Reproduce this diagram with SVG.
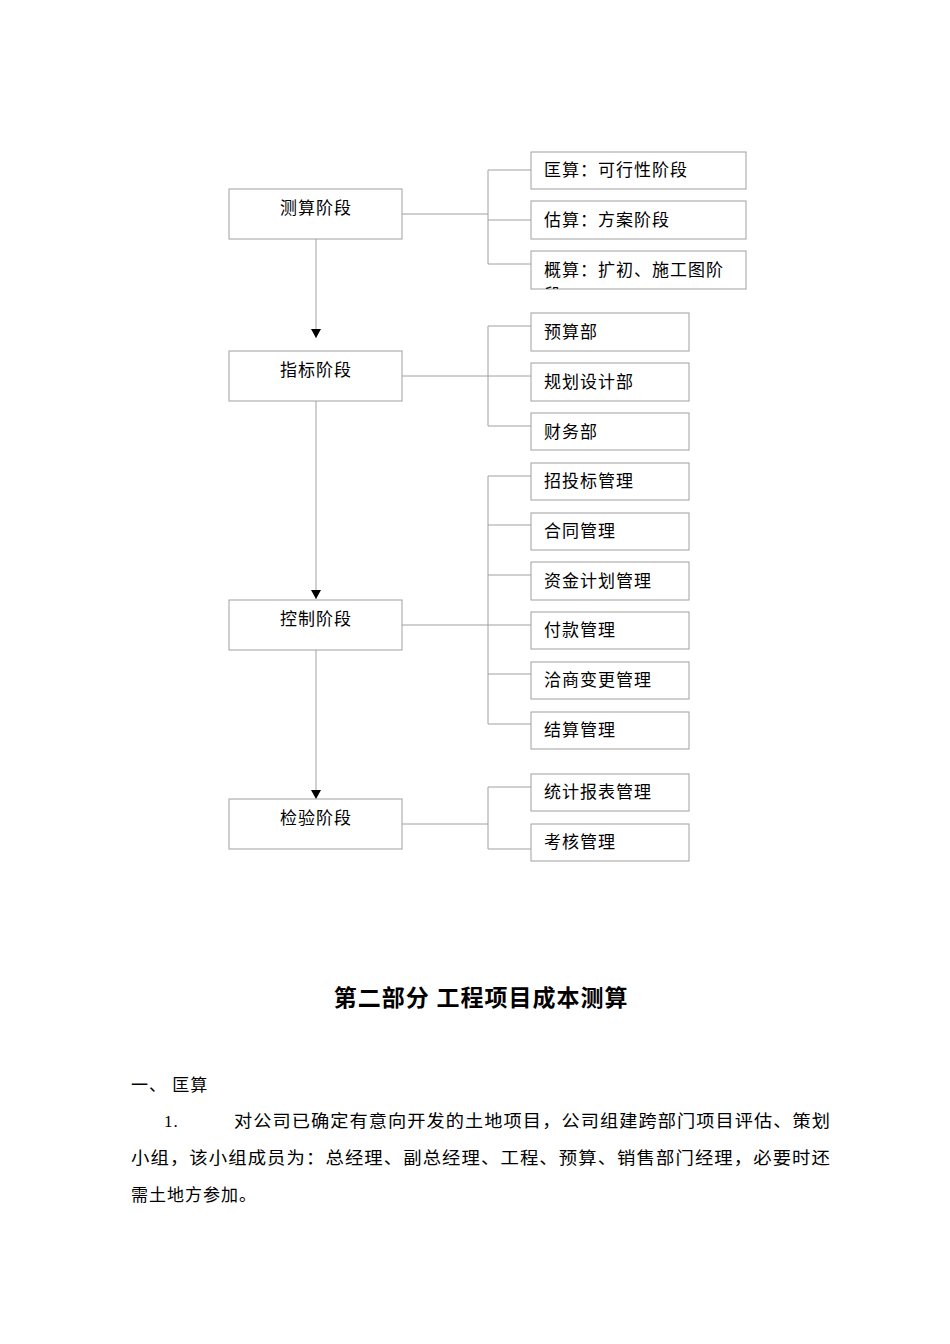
<svg xmlns="http://www.w3.org/2000/svg" width="950" height="1344" viewBox="0 0 950 1344">
<style>
.b{fill:#fff;stroke:#a0a0a0;stroke-width:1}
.l{stroke:#a0a0a0;stroke-width:1;fill:none}
text{font-family:"Liberation Serif","Noto Sans CJK SC",serif;font-size:17px;fill:#000;letter-spacing:1px}
.c{text-anchor:middle}
</style>
<defs>
<marker id="a" markerWidth="10" markerHeight="10" refX="9" refY="5" orient="auto" markerUnits="userSpaceOnUse"><path d="M0,0 L9,5 L0,10 Z" fill="#000"/></marker>
<clipPath id="cp"><rect x="531" y="251" width="215" height="38"/></clipPath>
</defs>
<rect width="950" height="1344" fill="#fff"/>
<g id="connectors">
<path class="l" d="M316,239 V338" marker-end="url(#a)"/>
<path class="l" d="M316,401 V599" marker-end="url(#a)"/>
<path class="l" d="M316,650 V799" marker-end="url(#a)"/>
<path class="l" d="M402,214 H488 M488,170 V264 M488,170 H531 M488,220 H531 M488,264 H531"/>
<path class="l" d="M402,376 H488 M488,326 V426 M488,326 H531 M488,376 H531 M488,426 H531"/>
<path class="l" d="M402,625 H488 M488,476 V724 M488,476 H531 M488,525 H531 M488,575 H531 M488,625 H531 M488,674 H531 M488,724 H531"/>
<path class="l" d="M402,824 H488 M488,787 V849 M488,787 H531 M488,849 H531"/>
</g>
<g id="n1"><rect class="b" x="229" y="189" width="173" height="50"/><text class="c" x="316" y="214">测算阶段</text></g>
<g id="n2"><rect class="b" x="229" y="351" width="173" height="50"/><text class="c" x="316" y="376">指标阶段</text></g>
<g id="n3"><rect class="b" x="229" y="600" width="173" height="50"/><text class="c" x="316" y="625">控制阶段</text></g>
<g id="n4"><rect class="b" x="229" y="799" width="173" height="50"/><text class="c" x="316" y="824">检验阶段</text></g>
<g id="s1"><rect class="b" x="531" y="152" width="215" height="37"/><text x="544" y="176">匡算：可行性阶段</text></g>
<g id="s2"><rect class="b" x="531" y="201" width="215" height="38"/><text x="544" y="226">估算：方案阶段</text></g>
<g id="s3"><rect class="b" x="531" y="251" width="215" height="38"/><g clip-path="url(#cp)"><text x="544" y="276">概算：扩初、施工图阶</text><text x="544" y="301">段</text></g></g>
<g id="s4"><rect class="b" x="531" y="313" width="158" height="38"/><text x="544" y="338">预算部</text></g>
<g id="s5"><rect class="b" x="531" y="363" width="158" height="38"/><text x="544" y="388">规划设计部</text></g>
<g id="s6"><rect class="b" x="531" y="413" width="158" height="37"/><text x="544" y="438">财务部</text></g>
<g id="s7"><rect class="b" x="531" y="463" width="158" height="37"/><text x="544" y="487">招投标管理</text></g>
<g id="s8"><rect class="b" x="531" y="513" width="158" height="37"/><text x="544" y="537">合同管理</text></g>
<g id="s9"><rect class="b" x="531" y="562" width="158" height="38"/><text x="544" y="587">资金计划管理</text></g>
<g id="s10"><rect class="b" x="531" y="612" width="158" height="37"/><text x="544" y="636">付款管理</text></g>
<g id="s11"><rect class="b" x="531" y="662" width="158" height="37"/><text x="544" y="686">洽商变更管理</text></g>
<g id="s12"><rect class="b" x="531" y="712" width="158" height="37"/><text x="544" y="736">结算管理</text></g>
<g id="s13"><rect class="b" x="531" y="774" width="158" height="37"/><text x="544" y="798">统计报表管理</text></g>
<g id="s14"><rect class="b" x="531" y="824" width="158" height="37"/><text x="544" y="848">考核管理</text></g>
<text x="481" y="1006" class="c" style="font-size:23px;font-weight:bold">第二部分  工程项目成本测算</text>
<text x="131" y="1091">一、 匡算</text>
<text x="164" y="1127">1.</text>
<text x="234" y="1127" textLength="597" lengthAdjust="spacingAndGlyphs">对公司已确定有意向开发的土地项目，公司组建跨部门项目评估、策划</text>
<text x="131" y="1164" textLength="700" lengthAdjust="spacingAndGlyphs">小组，该小组成员为：总经理、副总经理、工程、预算、销售部门经理，必要时还</text>
<text x="131" y="1201">需土地方参加。</text>
</svg>
